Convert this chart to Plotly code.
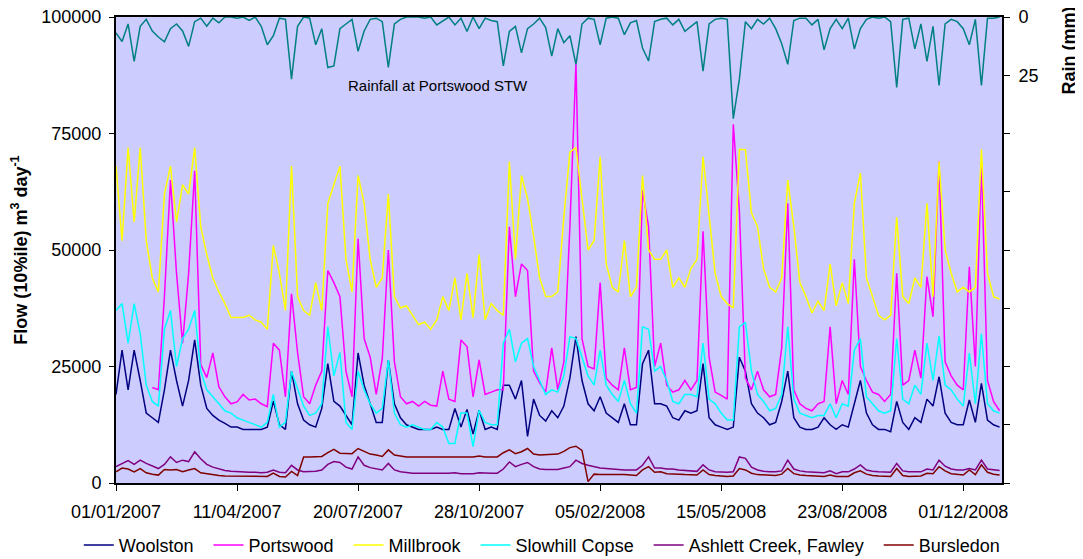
import pandas as pd
import plotly.graph_objects as go

# 5-day samples, 01/01/2007 .. 31/12/2008
dates = pd.date_range("2007-01-01", periods=147, freq="5D")

# flows in thousand m3/day
woolston_k = [
    19, 28.5, 20, 28.5, 22, 15, 14, 13, 20, 28.5,
    22, 16.5, 22, 30.7, 21, 16, 14.5, 13.5, 12.8, 12,
    12, 11.5, 11.5, 11.5, 11.5, 12, 17.6, 12.5, 11.5, 24,
    17, 13.5, 12.5, 12, 16, 25.6, 17.5, 16.5, 14.5, 12.5,
    27.9, 21, 17, 13, 13, 26.4, 17, 14, 12.5, 12,
    11.5, 11.5, 11.5, 12, 11.5, 11.5, 16, 12, 15.8, 10.5,
    15.6, 11.5, 12, 11.5, 21, 21, 18, 22, 10, 18,
    14.5, 13.3, 15.5, 14, 16.5, 22.5, 31.4, 22, 17, 15.5,
    18.5, 15, 14, 13, 17, 12.5, 12.5, 25.6, 28.5, 17,
    17, 16.5, 14, 13.5, 15.5, 15, 15.5, 25.6, 14, 12.5,
    12, 11.5, 12, 27, 24, 17, 15, 14, 12.5, 13,
    17.5, 24, 14, 12, 11.5, 11.5, 12, 14, 12.5, 11.5,
    12.5, 12, 17, 22, 15, 12.5, 11.5, 11.5, 11, 17.5,
    13, 11.5, 14, 13, 18, 16.5, 22.8, 15, 13, 12.5,
    12.5, 17.8, 13, 21.4, 13.5, 12.5, 12,
]
portswood_k = [
    None, None, None, None, None, None, 20.5, 20, 40, 65,
    45, 30, 45, 67, 25.4, 22.6, 27.9, 20.6, 18.5, 17,
    17.4, 19, 17.8, 18, 17, 16.4, 30, 28.5, 18.5, 40.6,
    28, 18.5, 17, 21, 24, 45.6, 43, 40, 24, 18.5,
    52.4, 31, 27, 19, 26.7, 50, 26, 18.5, 17, 17.5,
    16.5, 17.5, 16.7, 16.5, 24, 18, 17.5, 30.7, 29.3, 18.5,
    26.4, 19, 19.5, 20, 20, 55, 40, 47, 45.6, 24,
    21.5, 19.5, 29, 20, 26, 55, 90, 31, 25, 24.5,
    43, 22.5, 21, 20, 29, 20, 20.5, 62.8, 55, 25,
    30, 21, 19.5, 20, 22, 20, 22, 54, 27, 19.5,
    18.8, 18, 77, 58.5, 22.5, 20, 24, 20, 18.5, 19,
    29, 60, 20, 17, 16, 15.5, 17, 17.5, 33.5, 17,
    22, 19, 48, 25, 22, 19.5, 19, 17.5, 19, 45,
    21, 22, 28.5, 22.5, 44.3, 35.7, 69, 26, 23, 21,
    20, 46.4, 25, 69, 22, 17.5, 15.5,
]
millbrook_k = [
    68, 52, 72, 56, 72, 52, 44, 41, 62, 68,
    56, 64, 62, 72, 55, 49, 44, 41, 38.5, 35.5,
    35.5, 35.5, 36, 35, 34.5, 33, 51, 45, 37, 68,
    40, 37, 36, 43, 37, 60, 64, 68, 48, 41,
    66, 60, 48, 42, 44, 62, 40, 37.6, 38, 36,
    34, 34.5, 33, 35, 40, 37, 44, 35, 45, 35.5,
    49, 35, 38.5, 37, 36, 69, 48, 66, 61, 53,
    44, 40, 40, 41, 57, 71, 72, 61, 50, 52,
    70, 47, 42, 41, 52, 40, 42, 66, 50, 48,
    48, 50, 42, 44, 42, 46, 48, 70, 57, 45,
    40, 38.5, 37.6, 71.6, 71.5, 58, 55, 46, 42, 41,
    44, 65, 55, 43, 40, 36.5, 39, 37, 47, 38,
    43, 38.5, 60, 66.5, 44, 40, 36, 35, 36, 57,
    40, 38.5, 44, 42, 60, 40, 69, 50, 45, 41,
    42, 41, 42, 71.6, 45, 40, 39.5,
]
slowhill_k = [
    37, 38.5, 30, 38.5, 32, 21, 17.5, 16.5, 33, 37,
    25, 31, 33, 37, 24, 20, 18.5, 17, 15.5, 15,
    14, 13.5, 13, 12.5, 12, 13, 19, 12, 13, 24,
    20, 16.5, 14.5, 15, 17, 33.5, 23, 28, 13, 11.5,
    24, 20, 17, 15, 16, 26.4, 15, 12.5, 12, 12.5,
    12, 11.5, 11.5, 13, 12, 8.5, 8.5, 15, 15, 7.8,
    15.6, 13, 12.5, 12.5, 30, 33, 26, 30, 31, 25,
    22, 19, 20, 19.5, 23, 31.4, 31, 27, 23, 21,
    28.5, 21, 19, 17.5, 22, 17, 15, 33.5, 33, 24,
    25, 22, 17.5, 17, 19, 19, 18.5, 30, 18, 17,
    15, 13.5, 13.5, 33.5, 34.5, 24, 19, 17.5, 15.5, 16,
    19, 33.5, 18, 15, 14.5, 14, 14.5, 14.5, 17, 14,
    17, 16.5, 28.5, 31, 18.5, 17, 15.5, 15, 15.5, 31,
    18, 17, 21, 19, 30, 22, 31.5, 21, 20, 18,
    16.5, 27.9, 17, 32, 17, 15.5, 15,
]
ashlett_k = [
    3.5, 4.2, 4.8, 4.0, 4.9, 4.2, 3.6, 3.1, 4.0, 5.6,
    4.4, 4.9, 4.6, 6.7, 5.2, 4.0, 3.4, 3.0, 2.7, 2.5,
    2.4, 2.4, 2.3, 2.3, 2.2, 2.3, 2.8, 2.3, 2.2, 3.8,
    2.8, 2.4, 2.4, 2.5, 2.8, 4.0, 4.6, 4.4, 3.4, 3.0,
    5.6, 3.8, 3.3, 3.1, 2.8, 4.2, 2.8, 2.4, 2.2, 2.1,
    2.1, 2.1, 2.1, 2.0, 2.0, 2.1, 2.2, 2.0, 2.0, 2.0,
    2.2, 2.1, 2.1, 2.1, 3.0, 4.5, 3.5, 4.0, 4.4, 3.5,
    3.0, 2.9, 2.9, 2.9, 3.2, 3.5, 4.9, 4.2, 3.8, 3.5,
    3.2, 3.1, 3.0, 2.8, 2.8, 2.8, 2.8, 3.8, 5.6, 3.2,
    3.2, 3.0, 3.0, 2.8, 2.7, 2.6, 2.5, 3.9, 2.8, 2.4,
    2.3, 2.3, 2.4, 5.6, 5.3, 3.4, 2.8, 2.5, 2.4, 2.4,
    2.6, 4.9, 3.0, 2.6, 2.4, 2.3, 2.2, 2.2, 2.6, 2.0,
    2.4, 2.4, 3.0, 3.9, 2.8, 2.5, 2.4, 2.4, 2.3, 4.2,
    2.6, 2.4, 2.4, 2.4, 3.0, 2.8, 4.9, 3.6, 3.0, 2.8,
    2.8, 3.1, 2.8, 4.9, 3.0, 2.8, 2.7,
]
bursledon_k = [
    2.4, 3.2, 3.0, 2.4, 3.1, 2.2, 1.9, 1.7, 2.9, 2.8,
    2.9, 2.4, 2.8, 3.1, 2.2, 2.0, 1.7, 1.6, 1.5, 1.5,
    1.4, 1.4, 1.4, 1.4, 1.4, 1.4, 2.1, 1.4, 1.3, 2.5,
    1.6, 5.6, 5.6, 5.6, 5.7, 6.5, 7.2, 6.4, 6.4, 6.3,
    7.4, 6.8, 6.2, 6.0, 5.7, 7.1, 6.0, 5.8, 5.6, 5.6,
    5.6, 5.6, 5.6, 5.6, 5.6, 5.6, 5.6, 5.6, 5.6, 5.6,
    5.8, 5.6, 5.6, 5.6, 6.5, 7.1, 6.3, 6.7, 7.4, 6.2,
    6.0, 6.1, 6.2, 6.2, 6.8, 7.6, 7.9, 7.0, 0.3, 1.9,
    1.8, 1.8, 1.9, 1.8, 1.8, 1.7, 1.6, 2.8, 3.5, 2.3,
    2.4, 2.0, 2.0, 1.9, 1.8, 1.7, 1.7, 2.8, 1.8, 1.6,
    1.5, 1.4, 1.5, 3.1, 2.8, 2.1, 1.8, 1.7, 1.6, 1.6,
    1.9, 3.1, 2.0, 1.7, 1.6, 1.5, 1.4, 1.4, 1.7, 1.4,
    1.4, 1.4, 2.2, 2.6, 1.9, 1.6, 1.5, 1.4, 1.4, 3.1,
    1.6, 1.4, 1.4, 1.5, 2.1, 2.0, 3.5, 2.6, 2.0, 1.8,
    1.7, 2.8, 1.8, 3.9, 2.3, 1.9, 1.7,
]
# rainfall at Portswood STW, mm
rain_mm = [
    6.8, 10.5, 3, 19, 4, 1, 6, 8.6, 10.7, 5,
    3, 6, 12.6, 2, 0.5, 4, 0.5, 2.5, 0, 0,
    0.5, 0, 1.5, 0, 4, 11.9, 8, 0.5, 1, 26.7,
    4, 0, 0.5, 11.9, 5, 21.7, 21, 5, 3, 1,
    14.7, 6, 1, 0.5, 2, 21.6, 3, 1, 0, 0,
    0, 0.5, 0, 3.4, 1.5, 0, 3.4, 0.5, 6.2, 0,
    5, 0.5, 1.5, 2, 21, 6.2, 4, 15.4, 5, 3,
    0.5, 4.5, 16.8, 5, 11, 8, 20.3, 3, 0.5, 1,
    11.9, 0.5, 0, 0.5, 7.6, 2.5, 1.5, 13.3, 18.9, 2,
    1, 0.5, 3.4, 1, 6.2, 4, 2, 23.2, 3, 1,
    0.5, 1, 43.6, 26.8, 2, 5, 1, 3, 0.5, 5,
    11.5, 20.3, 1.5, 0.5, 0.5, 3.4, 1, 14.1, 5, 1,
    5, 0.5, 13.7, 5, 1, 0, 0.5, 0, 2, 30.2,
    1, 0.5, 13.7, 3, 19, 4, 29.4, 3, 1, 2,
    5, 11.9, 1, 29.4, 0.5, 0.5, 0,
]

rain_ticks = [0, 25, 50, 75, 100, 125, 150, 175, 200]
rain_ticktext = ["0", "25", "", "", "", "", "", "", ""]


def to_flow(vals):
    return [None if v is None else v * 1000 for v in vals]


PAD = "\u00a0\u00a0"  # widen legend spacing a little
series = [
    ("Woolston", woolston_k, "#000080"),
    ("Portswood", portswood_k, "#ff00ff"),
    ("Millbrook", millbrook_k, "#ffff00"),
    ("Slowhill Copse", slowhill_k, "#00ffff"),
    ("Ashlett Creek, Fawley", ashlett_k, "#800080"),
    ("Bursledon", bursledon_k, "#800000"),
]

fig = go.Figure()
for k, (name, vals, color) in enumerate(series):
    label = name if k == len(series) - 1 else name + PAD
    fig.add_trace(go.Scatter(
        x=dates, y=to_flow(vals), mode="lines", name=label,
        line=dict(color=color, width=1.5),
    ))

fig.add_trace(go.Scatter(
    x=dates, y=rain_mm, mode="lines", name="Rain",
    line=dict(color="#008080", width=1.5),
    yaxis="y2", showlegend=False,
))

axis_font = dict(family="Liberation Sans, Arial, sans-serif", size=18, color="black")

# the page body has an 8px margin, so the margins below are offset by 8px
fig.update_layout(
    width=1083,
    height=567,
    margin=dict(l=108, r=89, t=9, b=92),
    paper_bgcolor="white",
    plot_bgcolor="#ccccff",
    font=axis_font,
    xaxis=dict(
        type="date",
        range=["2007-01-01", "2009-01-02"],
        tick0="2007-01-01",
        dtick=100 * 86400000,
        tickformat="%d/%m/%Y",
        ticks="outside", ticklen=6, tickcolor="black",
        ticklabelstandoff=5,
        showline=True, linewidth=2, linecolor="black", mirror=True,
        showgrid=False, zeroline=False, automargin=False,
        ticklabeloverflow="allow",
    ),
    yaxis=dict(
        range=[0, 100000],
        dtick=25000,
        tickformat="d",
        ticks="outside", ticklen=5, tickcolor="black",
        ticklabelstandoff=4,
        showline=True, linewidth=2, linecolor="black",
        showgrid=False, zeroline=False, automargin=False,
        ticklabeloverflow="allow",
        title=dict(text="<b>Flow (10%ile) m<sup>3</sup> day<sup>-1</sup></b>",
                   font=dict(size=18), standoff=20),
    ),
    yaxis2=dict(
        overlaying="y", side="right",
        range=[200, 0],
        tickvals=rain_ticks, ticktext=rain_ticktext,
        ticks="outside", ticklen=6, tickcolor="black",
        ticklabelstandoff=5,
        showline=True, linewidth=2, linecolor="black",
        showgrid=False, zeroline=False, automargin=False,
        ticklabeloverflow="allow",
    ),
    legend=dict(
        orientation="h",
        x=-0.042, xanchor="left",
        y=-0.094, yanchor="top",
        font=dict(size=18),
        bgcolor="rgba(0,0,0,0)",
    ),
    annotations=[
        dict(text="<b>Rain (mm)</b>", textangle=-90,
             xref="paper", yref="paper", x=1.076, y=0.929,
             xanchor="center", yanchor="middle",
             showarrow=False, font=dict(size=18)),
        dict(text="Rainfall at Portswood STW",
             xref="paper", yref="paper", x=0.363, y=0.854,
             xanchor="center", yanchor="middle",
             showarrow=False, font=dict(size=15)),
    ],
)

fig.write_html("out.html")
